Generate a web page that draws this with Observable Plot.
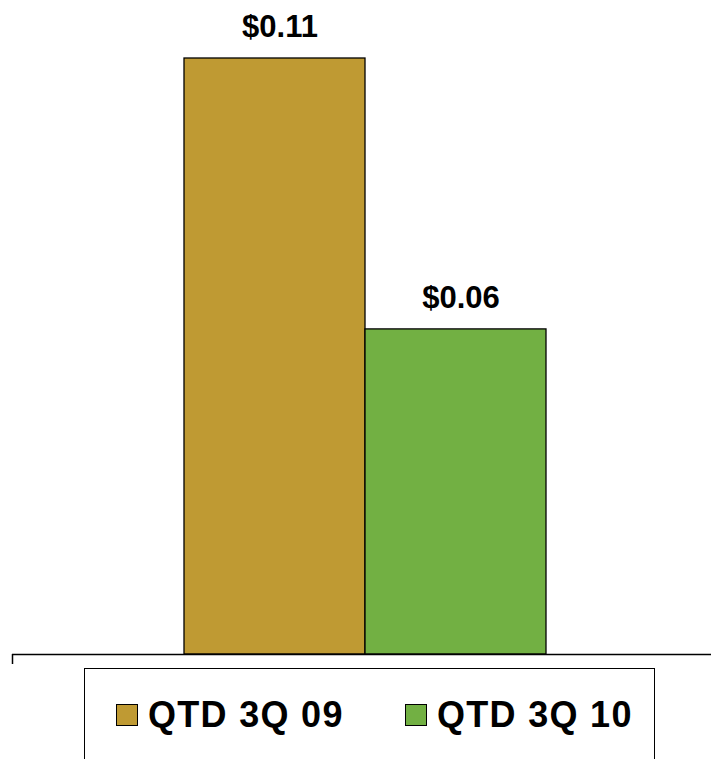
<!DOCTYPE html>
<html>
<head>
<meta charset="utf-8">
<script src="https://cdn.jsdelivr.net/npm/d3@7"></script>
<script src="https://cdn.jsdelivr.net/npm/@observablehq/plot@0.6"></script>
<style>
  html, body { margin: 0; padding: 0; background: #fff; overflow: hidden; }
  body { width: 711px; height: 759px; position: relative; font-family: "Liberation Sans", Arial, sans-serif; }
  #chart { position: absolute; left: 0; top: 0; }
  #legend {
    position: absolute; left: 84px; top: 668px; width: 571px; height: 120px;
    border: 1.5px solid #000; box-sizing: border-box;
  }
  .item { position: absolute; top: 26px; height: 40px; display: flex; align-items: center; font-weight: bold; font-size: 36px; line-height: 40px; color: #000; letter-spacing: 1.3px; }
  .sw { width: 20px; height: 20px; border: 1.5px solid #000; margin-right: 10px; }
</style>
</head>
<body>
<div id="chart"></div>
<div id="legend"></div>
<script>
const categories = ["QTD 3Q 09", "QTD 3Q 10"];
const values = [0.11, 0.06];
const labels = ["$0.11", "$0.06"];
const colors = ["#BF9A33", "#72B043"];

const data = categories.map((c, i) => ({cat: c, value: values[i], label: labels[i]}));

const chart = Plot.plot({
  width: 711,
  height: 670,
  marginLeft: 12,
  marginRight: 0,
  marginTop: 0,
  marginBottom: 0,
  style: {background: "#fff", fontFamily: "Liberation Sans, Arial, sans-serif"},
  x: {domain: categories, range: [184, 546], padding: 0, axis: null},
  y: {domain: [0, 0.11], range: [654, 58], axis: null},
  color: {domain: categories, range: colors},
  marks: [
    Plot.barY(data, {x: "cat", y: "value", fill: "cat", stroke: "#000", strokeWidth: 1.3}),
    Plot.ruleY([0], {stroke: "#000", strokeWidth: 1.5}),
    Plot.text(data, {x: "cat", y: "value", text: "label", dy: -31, dx: 5, fontSize: 31, fontWeight: "bold", fill: "#000"})
  ]
});
document.getElementById("chart").appendChild(chart);

// small axis tick at left end of the category axis
const y0 = chart.scale("y").apply(0);
d3.select(chart).append("line")
  .attr("x1", 12.5).attr("x2", 12.5)
  .attr("y1", y0).attr("y2", y0 + 10)
  .attr("stroke", "#000").attr("stroke-width", 1.5);

const legend = document.getElementById("legend");
const lefts = [31, 320];
categories.forEach((c, i) => {
  const it = document.createElement("div");
  it.className = "item";
  it.style.left = lefts[i] + "px";
  const sw = document.createElement("div");
  sw.className = "sw";
  sw.style.background = colors[i];
  it.appendChild(sw);
  const t = document.createElement("span");
  t.textContent = c;
  it.appendChild(t);
  legend.appendChild(it);
});
</script>
</body>
</html>
